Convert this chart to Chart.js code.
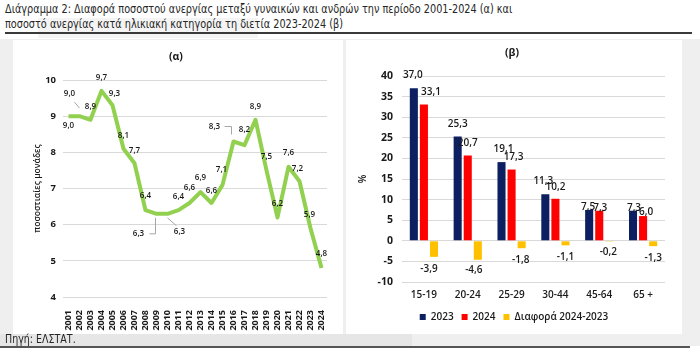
<!DOCTYPE html>
<html>
<head>
<meta charset="utf-8">
<script src="https://cdn.jsdelivr.net/npm/chart.js@4.4.1/dist/chart.umd.min.js"></script>
<style>
    html, body { margin: 0; padding: 0; }
    body { width: 700px; height: 348px; position: relative; overflow: hidden; background: #fff; font-family: "Open Sans", sans-serif; }
    #title { position: absolute; left: 5px; top: 1px; font-family: "DejaVu Sans Condensed", sans-serif; font-size: 13px; line-height: 15px; color: #262626; white-space: nowrap; transform: scaleX(0.83); transform-origin: 0 0; }
    #title-shade { position: absolute; left: 38px; top: 18px; width: 220px; height: 20px; background: #f4f4f4; }
    #rule { position: absolute; left: 5px; top: 32px; width: 687px; height: 2px; background: #3a3a3a; }
    #band { position: absolute; left: 0; top: 39px; width: 700px; height: 307px; background: #efefef; }
    #foot-shade { position: absolute; left: 0; top: 334px; width: 412px; height: 12px; background: #e6e6e6; }
    .panel { position: absolute; top: 40px; height: 294px; background: #fff; }
    #panel-a { left: 13px; width: 330px; }
    #panel-b { left: 346px; width: 336px; }
    .panel canvas { position: absolute; left: 0; top: 0; }
    .ptitle { position: absolute; font-weight: 700; font-size: 10.5px; color: #1a1a1a; }
    #source { position: absolute; left: 5px; top: 332px; font-family: "DejaVu Sans Condensed", sans-serif; font-size: 12px; color: #262626; transform: scaleX(0.88); transform-origin: 0 0; }
    #bottom-rule { position: absolute; left: 0; top: 346px; width: 690px; height: 2px; background: #555; }
</style>
</head>
<body>
<div id="title-shade"></div>
<div id="title">Διάγραμμα 2: Διαφορά ποσοστού ανεργίας μεταξύ γυναικών και ανδρών την περίοδο 2001-2024 (α) και<br>ποσοστό ανεργίας κατά ηλικιακή κατηγορία τη διετία 2023-2024 (β)</div>
<div id="rule"></div>
<div id="band"></div>
<div id="foot-shade"></div>
<div class="panel" id="panel-a">
    <canvas id="gapChart" width="330" height="294"></canvas>
    <div class="ptitle" style="left:156px; top:9px;">(α)</div>
</div>
<div class="panel" id="panel-b">
    <canvas id="ageChart" width="336" height="294"></canvas>
    <div class="ptitle" style="left:159px; top:5px;">(β)</div>
</div>
<div id="source">Πηγή: ΕΛΣΤΑΤ.</div>
<div id="bottom-rule"></div>

<script>
// (α) gender gap in unemployment, percentage points
const years = ['2001', '2002', '2003', '2004', '2005', '2006', '2007', '2008', '2009', '2010', '2011', '2012',
    '2013', '2014', '2015', '2016', '2017', '2018', '2019', '2020', '2021', '2022', '2023', '2024'];
const gapValues = [9.0, 9.0, 8.9, 9.7, 9.3, 8.1, 7.7, 6.4, 6.3, 6.3, 6.4, 6.6,
    6.9, 6.6, 7.1, 8.3, 8.2, 8.9, 7.5, 6.2, 7.6, 7.2, 5.9, 4.8];

// (β) unemployment by age group
const ageGroups = ['15-19', '20-24', '25-29', '30-44', '45-64', '65 +'];
const rate2023 = [37.0, 25.3, 19.1, 11.3, 7.5, 7.3];
const rate2024 = [33.1, 20.7, 17.3, 10.2, 7.3, 6.0];
const rateDiff = [-3.9, -4.6, -1.8, -1.1, -0.2, -1.3];

const fmt = v => v.toFixed(1).replace('.', ',');
const gridColor = '#d9d9d9';
const inkColor = '#1a1a1a';

// label nudges for (α): [dx, dy, leader points relative to the data point]
const gapNudges = [
    [0, 10], [-10, -22, [[-5, -14], [0, -8]]], [0, -13], [0, -13], [2, -12], [0, -13],
    [0, -12], [0, -14], [-18, 20, [[-7, 20], [-1, 20], [-1, 4]]], [12, 18, [[0, 4], [9, 12]]], [0, -13], [0, -15],
    [0, -14], [0, -12], [-1, -15], [-19, -15, [[-9, -15], [-2, -15], [-2, -7]]], [0, -15], [0, -13],
    [0, -14], [0, -14], [0, -14], [-2, -13], [-1, -14], [0, -14],
];

// label nudges for (β), per dataset: [dx, dy]
const ageNudges = [
    [[-1, -13], [0, -12], [2, -13], [-2, -13], [-1, -3], [1, -3]],
    [[7, -12], [0, -12], [2, -12], [0, -12], [1, -3], [3, -4]],
    [[-5, 12], [-4, 10], [-1, 12], [0, 12], [-1, 11], [0, 12]],
];

const pointLabels = {
    id: 'pointLabels',
    afterDatasetsDraw(chart, args, opts) {
        const { ctx } = chart;
        ctx.save();
        ctx.font = opts.font;
        ctx.fillStyle = inkColor;
        ctx.textAlign = 'center';
        ctx.textBaseline = 'middle';
        chart.data.datasets.forEach((ds, di) => {
            const meta = chart.getDatasetMeta(di);
            meta.data.forEach((el, i) => {
                const [dx, dy, leader] = opts.nudges[di][i];
                if (leader) {
                    ctx.save();
                    ctx.strokeStyle = '#a6a6a6';
                    ctx.lineWidth = 1;
                    ctx.beginPath();
                    leader.forEach(([lx, ly], k) => {
                        const fn = k === 0 ? 'moveTo' : 'lineTo';
                        ctx[fn](el.x + lx, el.y + ly);
                    });
                    ctx.stroke();
                    ctx.restore();
                }
                ctx.fillText(fmt(ds.data[i]), el.x + dx, el.y + dy);
            });
        });
        ctx.restore();
    },
};

new Chart(document.getElementById('gapChart'), {
    type: 'line',
    data: {
        labels: years,
        datasets: [{
            data: gapValues,
            borderColor: '#92d050',
            borderWidth: 4,
            borderJoinStyle: 'round',
            pointRadius: 0,
            tension: 0,
        }],
    },
    options: {
        responsive: false,
        animation: false,
        layout: { padding: { top: 40, right: 16, left: 0, bottom: 0 } },
        plugins: {
            legend: { display: false },
            tooltip: { enabled: false },
            pointLabels: { font: '600 8px "Open Sans"', nudges: [gapNudges] },
        },
        scales: {
            x: {
                offset: true,
                grid: { display: false },
                border: { display: false },
                ticks: { autoSkip: false, minRotation: 90, maxRotation: 90, padding: 5, color: inkColor, font: { family: 'Open Sans', size: 9, weight: '700' } },
                afterFit: s => { s.height = 37; },
            },
            y: {
                min: 4,
                max: 10,
                ticks: { stepSize: 1, padding: 7, color: inkColor, font: { family: 'Open Sans', size: 9.5, weight: '700' } },
                grid: { color: gridColor, drawTicks: false },
                border: { display: false },
                title: { display: true, text: 'ποσοστιαίες μονάδες', color: inkColor, font: { family: 'Open Sans', size: 8.5, weight: '600' }, padding: { top: 19, bottom: 0 } },
                afterFit: s => { s.width = 50; },
            },
        },
    },
    plugins: [pointLabels],
});

new Chart(document.getElementById('ageChart'), {
    type: 'bar',
    data: {
        labels: ageGroups,
        datasets: [
            { label: '2023', data: rate2023, backgroundColor: '#0c2061' },
            { label: '2024', data: rate2024, backgroundColor: '#ff0000' },
            { label: 'Διαφορά 2024-2023', data: rateDiff, backgroundColor: '#ffc000' },
        ],
    },
    options: {
        responsive: false,
        animation: false,
        categoryPercentage: 0.69,
        barPercentage: 0.8,
        layout: { padding: { top: 36, right: 17, left: 17, bottom: 2 } },
        plugins: {
            legend: {
                position: 'bottom',
                labels: { boxWidth: 6, boxHeight: 6, padding: 8, color: inkColor, font: { family: 'Open Sans', size: 10, weight: '600' } },
            },
            tooltip: { enabled: false },
            pointLabels: { font: '600 10px "Open Sans"', nudges: ageNudges },
        },
        scales: {
            x: {
                grid: { display: false, drawTicks: false },
                border: { display: false },
                ticks: { padding: 7, color: inkColor, font: { family: 'Open Sans', size: 10, weight: '600' } },
                afterFit: s => { s.height = 22; },
            },
            y: {
                min: -10,
                max: 40,
                ticks: { stepSize: 5, padding: 9, color: inkColor, font: { family: 'Open Sans', size: 10.5, weight: '700' } },
                grid: { color: gridColor, drawTicks: false },
                border: { display: false },
                title: { display: true, text: '%', color: inkColor, font: { family: 'Open Sans', size: 10, weight: '600' }, padding: { top: -6, bottom: 0 } },
                afterFit: s => { s.width = 39; },
            },
        },
    },
    plugins: [pointLabels],
});
</script>
</body>
</html>
